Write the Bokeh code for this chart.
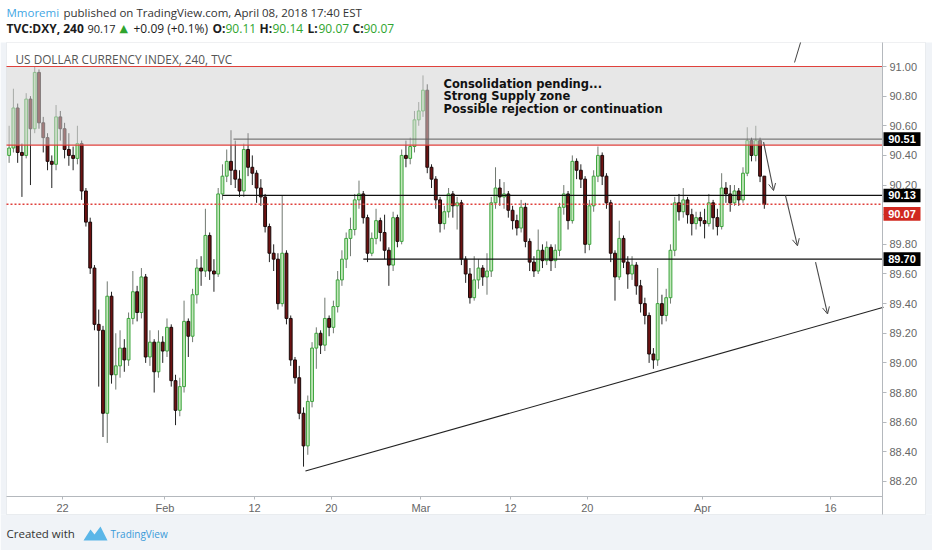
from bokeh.plotting import figure
from bokeh.models import (Range1d, FixedTicker, PrintfTickFormatter, Label, BoxAnnotation,
                          Arrow, OpenHead, ColumnDataSource, PolyAnnotation, LinearAxis)
from bokeh.embed import file_html
from bokeh.resources import INLINE

# ---------------- data (DXY, 8h candles) ----------------
first_open = 90.40
closes = [
    90.45, 90.72, 90.42, 90.40, 90.78, 90.58, 90.96, 90.62, 90.52, 90.36,
    90.34, 90.66, 90.58, 90.44, 90.40, 90.38, 90.48, 90.16, 89.95, 89.64,
    89.26, 89.22, 88.66, 89.45, 88.92, 88.98, 89.10, 89.02, 89.30, 89.48,
    89.34, 89.58, 89.04, 89.14, 88.94, 89.14, 89.08, 89.24, 88.88, 88.68,
    88.84, 89.28, 89.18, 89.46, 89.64, 89.62, 89.86, 89.62, 89.60, 90.14,
    90.26, 90.36, 90.30, 90.24, 90.16, 90.44, 90.32, 90.28, 90.18, 90.12,
    89.92, 89.74, 89.70, 89.40, 89.74, 89.30, 89.02, 88.90, 88.66, 88.44,
    88.74, 89.10, 89.20, 89.12, 89.30, 89.24, 89.38, 89.56, 89.70, 89.84,
    89.90, 90.10, 90.14, 89.98, 89.74, 89.84, 89.96, 89.88, 89.76, 89.66,
    89.98, 89.82, 90.40, 90.38, 90.46, 90.64, 90.70, 90.84, 90.32, 90.24,
    90.10, 89.94, 90.02, 90.14, 90.06, 90.08, 89.70, 89.60, 89.44, 89.56,
    89.64, 89.58, 89.62, 90.08, 90.18, 90.12, 90.14, 90.03, 89.96, 89.91,
    90.05, 89.82, 89.68, 89.62, 89.76, 89.69, 89.78, 89.69, 89.76, 90.05,
    90.14, 89.96, 90.36, 90.30, 90.24, 89.80, 90.06, 90.26, 90.40, 90.26,
    90.08, 89.74, 89.58, 89.84, 89.68, 89.60, 89.66, 89.52, 89.40, 89.32,
    89.06, 89.02, 89.40, 89.32, 89.44, 89.76, 90.08, 90.02, 90.10, 90.00,
    89.94, 89.98, 89.96, 89.94, 90.08, 89.98, 89.92, 90.18, 90.14, 90.08,
    90.16, 90.10, 90.28, 90.50, 90.40, 90.50, 90.26, 90.07,
]
highs = [
    90.60, 90.85, 90.75, 90.48, 90.82, 90.80, 91.00, 90.98, 90.66, 90.55,
    90.40, 90.74, 90.70, 90.62, 90.55, 90.46, 90.60, 90.50, 90.18, 89.98,
    89.66, 89.36, 89.25, 89.55, 89.48, 89.20, 89.22, 89.16, 89.34, 89.62,
    89.52, 89.64, 89.60, 89.22, 89.16, 89.22, 89.18, 89.30, 89.26, 88.92,
    88.90, 89.42, 89.30, 89.50, 89.70, 89.72, 90.04, 89.88, 89.70, 90.18,
    90.34, 90.44, 90.57, 90.50, 90.30, 90.48, 90.55, 90.40, 90.30, 90.24,
    90.14, 89.94, 89.80, 89.74, 90.13, 89.76, 89.32, 89.04, 88.98, 88.70,
    88.78, 89.14, 89.24, 89.22, 89.44, 89.32, 89.42, 89.62, 89.76, 89.88,
    89.98, 90.14, 90.23, 90.16, 90.00, 89.88, 90.04, 89.98, 90.00, 89.78,
    90.02, 90.00, 90.44, 90.50, 90.52, 90.70, 90.76, 90.94, 90.88, 90.34,
    90.26, 90.12, 90.06, 90.18, 90.16, 90.12, 90.10, 89.72, 89.64, 89.72,
    89.70, 89.66, 89.74, 90.12, 90.32, 90.24, 90.22, 90.16, 90.06, 90.00,
    90.10, 90.08, 89.84, 89.72, 89.90, 89.80, 89.82, 89.80, 89.80, 90.08,
    90.20, 90.16, 90.40, 90.38, 90.34, 90.26, 90.10, 90.30, 90.46, 90.42,
    90.28, 90.10, 89.76, 89.96, 89.86, 89.72, 89.72, 89.68, 89.56, 89.44,
    89.34, 89.10, 89.64, 89.46, 89.50, 89.80, 90.12, 90.14, 90.18, 90.12,
    90.04, 90.02, 90.02, 90.04, 90.14, 90.10, 90.04, 90.28, 90.22, 90.20,
    90.20, 90.18, 90.32, 90.59, 90.52, 90.60, 90.52, 90.26,
]
lows = [
    90.35, 90.42, 90.35, 90.12, 90.38, 90.20, 90.55, 90.58, 90.42, 90.30,
    90.18, 90.30, 90.50, 90.38, 90.33, 90.30, 90.34, 90.10, 89.92, 89.60,
    89.22, 88.84, 88.50, 88.46, 88.86, 88.82, 88.90, 88.94, 88.98, 89.26,
    89.28, 89.30, 89.00, 88.98, 88.80, 88.90, 89.00, 89.04, 88.84, 88.58,
    88.64, 88.80, 89.04, 89.14, 89.40, 89.52, 89.58, 89.56, 89.48, 89.58,
    90.10, 90.22, 90.20, 90.18, 90.12, 90.12, 90.26, 90.20, 90.08, 90.06,
    89.88, 89.68, 89.62, 89.36, 89.38, 89.26, 88.98, 88.86, 88.62, 88.30,
    88.38, 88.70, 88.96, 89.06, 89.08, 89.18, 89.20, 89.34, 89.52, 89.64,
    89.72, 89.86, 90.04, 89.94, 89.68, 89.72, 89.80, 89.82, 89.70, 89.52,
    89.62, 89.78, 89.80, 90.32, 90.34, 90.42, 90.60, 90.66, 90.28, 90.18,
    90.04, 89.88, 89.90, 89.98, 89.98, 89.90, 89.66, 89.54, 89.40, 89.42,
    89.50, 89.52, 89.46, 89.58, 90.04, 90.06, 90.04, 89.98, 89.90, 89.86,
    89.88, 89.78, 89.62, 89.58, 89.60, 89.64, 89.66, 89.62, 89.64, 89.72,
    90.00, 89.90, 89.94, 90.24, 90.18, 89.74, 89.76, 90.02, 90.22, 90.20,
    90.04, 89.68, 89.42, 89.56, 89.64, 89.50, 89.56, 89.46, 89.34, 89.26,
    89.00, 88.96, 88.98, 89.26, 89.28, 89.40, 89.72, 89.96, 89.98, 89.94,
    89.86, 89.90, 89.92, 89.84, 89.92, 89.90, 89.86, 89.90, 90.08, 90.02,
    90.06, 90.06, 90.08, 90.26, 90.36, 90.36, 90.22, 90.04,
]
first_bar_day = -4.17          # trading-day index of first bar (Jan 22 = day 0)
bars_per_day = 3

tick_days = [0, 8, 15, 21, 28, 35, 41, 50, 60]
tick_labels = ["22", "Feb", "12", "20", "Mar", "12", "20", "Apr", "16"]
price_ticks = [88.20, 88.40, 88.60, 88.80, 89.00, 89.20, 89.40, 89.60,
               89.80, 90.00, 90.20, 90.40, 90.60, 90.80, 91.00]

zone_top = 91.00
zone_bottom = 90.47
level_values = [90.51, 90.13, 89.70]
level_start_days = [13.36, 12.5, 23.5]
last_price = 90.07

trend_days = [18.98, 64.14]
trend_prices = [88.27, 89.375]

arrow_x0 = [54.77, 56.48, 58.83]
arrow_y0 = [90.49, 90.13, 89.68]
arrow_x1 = [55.55, 57.42, 59.77]
arrow_y1 = [90.163, 89.79, 89.33]
stub_days = [57.19, 57.66]
stub_prices = [91.027, 91.162]

tag_values = [90.51, 90.13, 90.07, 89.70]
tag_texts = ["90.51", "90.13", "90.07", "89.70"]
tag_colors = ["#000000", "#000000", "#d0281f", "#000000"]
tag_shift_px = [0, 0, 9.5, 0]

note_text = "Consolidation pending...\nStrong Supply zone\nPossible rejection or continuation"

# ---------------- geometry (page pixels <-> data) ----------------
W, H = 932, 550
X0_PX, DAY_PX = 62.0, 12.8          # x of Jan 22, pixels per trading day
P0, P0_PX, PRICE_PX = 91.0, 66.0, 148.2

def day_at(px):
    return (px - X0_PX) / DAY_PX

def price_at(py):
    return P0 - (py - P0_PX) / PRICE_PX

AREA_L, AREA_R, AREA_T, AREA_B = 6, 882, 43, 496   # chart data area on the page

p = figure(width=W, height=H, output_backend="svg", toolbar_location=None,
           x_range=Range1d(day_at(0), day_at(W)), y_range=Range1d(price_at(H), price_at(0)),
           x_axis_type=None, y_axis_type=None, min_border=0)
p.title.visible = False
p.outline_line_color = None
p.background_fill_color = "white"
p.border_fill_color = "white"

# ---------------- backgrounds / pane ----------------
LIGHT = "#f0f3f7"
for l, r, t, b in [(0, W, 514, H), (0, 6, 42, 514), (925, W, 42, 514)]:
    p.add_layout(BoxAnnotation(left=l, right=r, top=H - t, bottom=H - b,
                               left_units="screen", right_units="screen",
                               top_units="screen", bottom_units="screen",
                               fill_color=LIGHT, fill_alpha=1, line_color=None,
                               level="underlay"))
p.add_layout(BoxAnnotation(left=6, right=925, top=H - 42, bottom=H - 514,
                           left_units="screen", right_units="screen",
                           top_units="screen", bottom_units="screen",
                           fill_alpha=0, line_color="#c9cdd3", line_width=1, level="underlay"))

# ---------------- axes (fixed at the edges of the data area) ----------------
xax = LinearAxis(fixed_location=price_at(AREA_B), bounds=(day_at(AREA_L), day_at(AREA_R)),
                 ticker=FixedTicker(ticks=tick_days),
                 major_label_overrides={d: t for d, t in zip(tick_days, tick_labels)})
yax = LinearAxis(fixed_location=day_at(AREA_R), bounds=(price_at(514), price_at(42)),
                 ticker=FixedTicker(ticks=price_ticks),
                 formatter=PrintfTickFormatter(format="%.2f"))
for ax, tout in ((xax, 3), (yax, 4)):
    ax.axis_line_color = "#b4b8bd"
    ax.major_tick_line_color = "#b4b8bd"
    ax.major_tick_out = tout
    ax.major_tick_in = 0
    ax.minor_tick_line_color = None
    ax.major_label_standoff = 2 if ax is xax else 3
    ax.major_label_text_font = "Liberation Sans"
    ax.major_label_text_font_size = "11px"
    ax.major_label_text_color = "#666666"
p.add_layout(xax, "below")
p.add_layout(yax, "right")

# ---------------- candles ----------------
n = len(closes)
opens = [first_open] + closes[:-1]
xs = [first_bar_day + i / bars_per_day for i in range(n)]

def subset(cond):
    idx = [i for i in range(n) if cond(i)]
    return ColumnDataSource(dict(
        x=[xs[i] for i in idx],
        hi=[highs[i] for i in idx],
        lo=[lows[i] for i in idx],
        top=[max(opens[i], closes[i]) for i in idx],
        bot=[min(opens[i], closes[i]) for i in idx],
    ))

up_src = subset(lambda i: closes[i] >= opens[i])
dn_src = subset(lambda i: closes[i] < opens[i])

bw = 0.22
p.segment(x0="x", y0="hi", x1="x", y1="lo", source=up_src, line_color="#707870", line_width=1)
p.segment(x0="x", y0="hi", x1="x", y1="lo", source=dn_src, line_color="#222222", line_width=1)
p.vbar(x="x", width=bw, top="top", bottom="bot", source=up_src,
       fill_color="#c3e6bb", line_color="#3aa43a", line_width=1)
p.vbar(x="x", width=bw, top="top", bottom="bot", source=dn_src,
       fill_color="#6e1212", line_color="#1a0a0a", line_width=1)

# supply zone (semi transparent, over the candles)
xl, xr = day_at(AREA_L), day_at(AREA_R)
p.quad(left=[xl], right=[xr], bottom=[zone_bottom], top=[zone_top],
       fill_color="#d3d3d3", fill_alpha=0.55, line_color=None)

# horizontal levels
p.segment(x0=level_start_days, y0=level_values, x1=[xr] * 3, y1=level_values,
          line_color=["#5e5e5e", "#111111", "#111111"], line_width=[1, 1.3, 1.3])
p.segment(x0=[xl, xl], y0=[zone_top, zone_bottom], x1=[xr, xr], y1=[zone_top, zone_bottom],
          line_color="#e0413c", line_width=1.2)
p.segment(x0=[xl], y0=[last_price], x1=[xr], y1=[last_price], line_color="#e0413c",
          line_width=1.5, line_dash="2 2")

# trend line and stub
p.line(trend_days, trend_prices, line_color="#222222", line_width=1.1)
p.line(stub_days, stub_prices, line_color="#444444", line_width=1)

# arrows
for a, b, c, d in zip(arrow_x0, arrow_y0, arrow_x1, arrow_y1):
    p.add_layout(Arrow(end=OpenHead(size=7, line_color="#4a4a4a", line_width=1),
                       x_start=a, y_start=b, x_end=c, y_end=d,
                       line_color="#4a4a4a", line_width=1.1))

# note text
p.add_layout(Label(x=day_at(443), y=price_at(76), text=note_text, text_font="DejaVu Sans",
                   text_font_style="bold", text_font_size="11.5px", text_color="#111111",
                   text_baseline="top", text_align="left", text_line_height=0.91))

# ---------------- screen texts ----------------
def page_label(text, px, py, size="11px", color="#333333", font="Open Sans", style="normal",
               align="left"):
    p.add_layout(Label(x=px, y=H - py, x_units="screen", y_units="screen",
                       text=text, text_font=font, text_font_size=size, text_color=color,
                       text_font_style=style, text_align=align, text_baseline="middle"))

# price tags
for v, t, c, s in zip(tag_values, tag_texts, tag_colors, tag_shift_px):
    cy = P0_PX + (P0 - v) * PRICE_PX + s
    p.add_layout(BoxAnnotation(left=883, right=920, top=price_at(cy - 6.8),
                               bottom=price_at(cy + 6.8), left_units="screen",
                               right_units="screen", fill_color=c, fill_alpha=1,
                               line_color=None))
    p.add_layout(Label(x=901.5, y=price_at(cy), x_units="screen", text=t,
                       text_font="Liberation Sans", text_font_style="bold",
                       text_font_size="11px", text_color="white",
                       text_align="center", text_baseline="middle"))

# header
page_label("Mmoremi", 6, 12, size="11.5px", color="#3fa6e3")
page_label("published on TradingView.com, April 08, 2018 17:40 EST", 63, 12, size="11.5px",
           color="#333333")
hdr = [("TVC:DXY, 240", 6, "bold", "#1c1c1c", "12px"), ("90.17", 87, "normal", "#1c1c1c", "11px"),
       ("+0.09 (+0.1%)", 133, "normal", "#1c1c1c", "12px"),
       ("O:", 212, "bold", "#1c1c1c", "12px"), ("90.11", 225, "normal", "#2ea52e", "12px"),
       ("H:", 259, "bold", "#1c1c1c", "12px"), ("90.14", 272, "normal", "#2ea52e", "12px"),
       ("L:", 307, "bold", "#1c1c1c", "12px"), ("90.07", 318, "normal", "#2ea52e", "12px"),
       ("C:", 352, "bold", "#1c1c1c", "12px"), ("90.07", 363, "normal", "#2ea52e", "12px")]
for t, px, st, col, sz in hdr:
    page_label(t, px, 28, size=sz, color=col, style=st)
page_label("\u25b2", 119, 28, size="11px", color="#2ea52e", font="DejaVu Sans")

# pane title
page_label("US DOLLAR CURRENCY INDEX, 240, TVC", 15, 58, size="11.8px", color="#555555")

# footer
page_label("Created with", 6, 533, size="11.5px", color="#333333")
logo_x = [83, 90, 94, 100, 107]
logo_y = [540, 529, 534, 526, 540]
p.add_layout(PolyAnnotation(xs=logo_x, ys=[H - y for y in logo_y],
                            xs_units="screen", ys_units="screen",
                            fill_color="#5ab6e8", fill_alpha=1, line_color=None))
page_label("TradingView", 110, 533, size="10px", color="#3a9ad9")

open("out.html", "w").write(file_html(p, INLINE))
